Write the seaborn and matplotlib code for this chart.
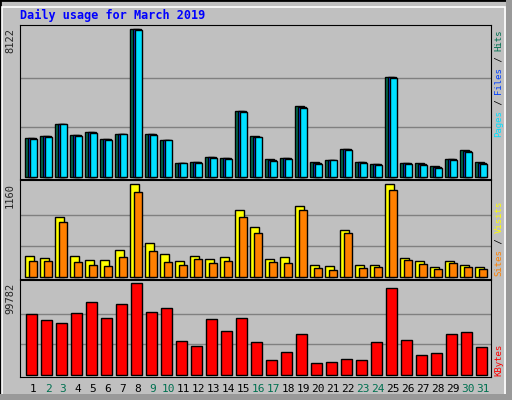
import numpy as np
import seaborn as sns
import matplotlib.pyplot as plt
from matplotlib.patches import Rectangle

days = list(range(1, 32))
weekend = [2, 3, 9, 10, 16, 17, 23, 24, 30, 31]
hits = [2132, 2242, 2904, 2297, 2463, 2077, 2352, 8122, 2352, 2022, 754, 809, 1084, 1029, 3621,
        2206, 974, 1029, 3896, 809, 919, 1525, 809, 698, 5495, 754, 754, 588, 974, 1470, 809]
files = [2100, 2210, 2904, 2270, 2430, 2050, 2352, 8100, 2320, 2022, 754, 780, 1055, 1000, 3590,
         2190, 915, 1000, 3840, 750, 919, 1495, 780, 670, 5465, 725, 700, 530, 945, 1415, 750]
pages = [2077, 2187, 2904, 2242, 2408, 2022, 2352, 8087, 2297, 2022, 754, 754, 1029, 974, 3566,
         2187, 864, 974, 3786, 698, 919, 1470, 754, 643, 5440, 698, 643, 478, 919, 1360, 698]
visits = [256, 230, 746, 256, 205, 205, 331, 1160, 419, 281, 193, 256, 218, 243, 834,
          620, 218, 243, 884, 142, 130, 582, 142, 142, 1160, 230, 193, 117, 193, 142, 117]
sites = [193, 193, 683, 180, 142, 130, 243, 1060, 318, 180, 142, 218, 168, 193, 746,
         545, 180, 168, 834, 105, 80, 545, 105, 117, 1085, 205, 155, 92, 168, 117, 92]
kbytes = [65920, 59730, 56090, 67010, 79030, 61550, 76850, 99782, 68100, 72470, 36420, 30960,
          60460, 47350, 61550, 35330, 15660, 24400, 44070, 12380, 13480, 16750, 15660, 35330,
          94330, 37510, 21120, 23310, 44070, 46250, 29860]

sns.set_style("white")
plt.rcParams['font.family'] = ['DejaVu Sans Mono']
BG = "#C0C0C0"
W, H = 512, 400
fig = plt.figure(figsize=(5.12, 4.0), dpi=100, facecolor=BG)

# bevelled frame
fig.patches.append(Rectangle((0, 0), 1, 1, transform=fig.transFigure, fill=False, ec="black", lw=2))
fig.patches.append(Rectangle((2 / W, 2 / H), 1 - 9 / W, 1 - 9 / H, transform=fig.transFigure,
                             fill=False, ec="white", lw=1.2))
fig.patches.append(Rectangle((0, 0), 1, 6 / H, transform=fig.transFigure, color="#999999", lw=0))
fig.patches.append(Rectangle((1 - 6 / W, 0), 6 / W, 1, transform=fig.transFigure, color="#999999", lw=0))


def px_axes(y0, y1):
    return fig.add_axes([20 / W, 1 - y1 / H, 471 / W, (y1 - y0) / H])


def bars(ax, vals, lo, hi, color):
    x = np.array(days) + (lo + hi) / 2
    sns.barplot(x=x, y=vals, native_scale=True, width=hi - lo, color=color,
                edgecolor="black", linewidth=1, saturation=1, ax=ax)


def style(ax, ymax, base_px, top_px, height_px, label):
    lo_frac = base_px / height_px
    hi_frac = top_px / height_px
    span = ymax / (hi_frac - lo_frac)
    ax.set_ylim(-lo_frac * span, -lo_frac * span + span)
    ax.set_xlim(1 - 13 / 15, 31 + 8 / 15)
    ax.set_facecolor(BG)
    for g in (ymax / 3, ymax * 2 / 3):
        ax.axhline(g, color="#808080", lw=1, zorder=0)
    ax.set_xticks([]); ax.set_yticks([])
    ax.set_xlabel(""); ax.set_ylabel("")
    for s in ax.spines.values():
        s.set_color("black")
    ax.text(-5 / 471, 1 - 3 / height_px, label, transform=ax.transAxes, rotation=90,
            ha="right", va="top", fontsize=7.5)


# top panel: y 25..179
ax1 = px_axes(25, 179)
bars(ax1, hits, -0.53, 0.07, "#007050")
bars(ax1, files, -0.33, 0.2, "#0040FF")
bars(ax1, pages, -0.2, 0.25, "#00E0FF")
style(ax1, max(hits), 2.5, 150, 154, "8122")

# middle panel: y 180..279
ax2 = px_axes(180, 279)
bars(ax2, visits, -0.53, 0.05, "#FFFF00")
bars(ax2, sites, -0.27, 0.25, "#FF8000")
style(ax2, max(visits), 2.5, 94.5, 99, "1160")

# bottom panel: y 280..377
ax3 = px_axes(280, 377)
bars(ax3, kbytes, -0.47, 0.25, "#FF0000")
style(ax3, max(kbytes), 2.5, 94, 97, "99782")

for d in days:
    fig.text((33 + (d - 1) * 15) / W, 1 - 389 / H, str(d), ha="center", va="center", fontsize=8,
             color="#007050" if d in weekend else "black")

fig.text(20 / W, 1 - 15 / H, "Daily usage for March 2019", color="#0000FF", fontsize=8.5,
         fontweight="bold", va="center", ha="left")


def right_label(parts, y_bottom):
    y = y_bottom
    for txt, col in parts:
        fig.text(499 / W, 1 - y / H, txt, rotation=90, color=col, fontsize=6.5, ha="center", va="bottom")
        y -= len(txt) * 5.4


right_label([("Pages", "#00E0FF"), (" / ", "black"), ("Files", "#0040FF"), (" / ", "black"),
             ("Hits", "#007050")], 137)
right_label([("Sites", "#FF8000"), (" / ", "black"), ("Visits", "#FFFF00")], 276)
right_label([("KBytes", "#FF0000")], 376)

fig.savefig("out.png", dpi=100, facecolor=BG)
